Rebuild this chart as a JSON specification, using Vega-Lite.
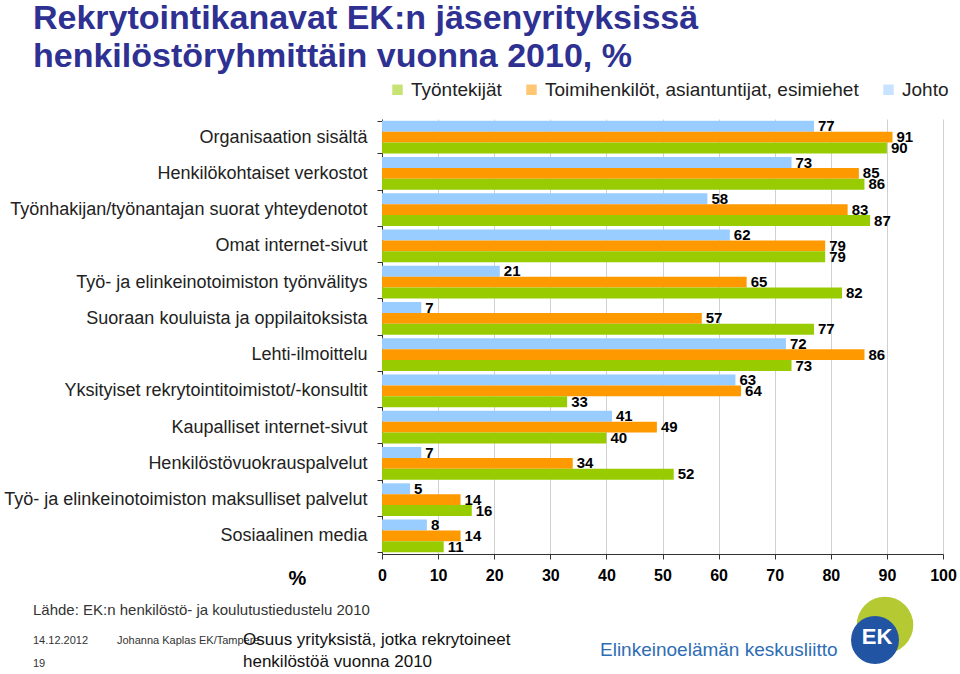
{
  "$schema": "https://vega.github.io/schema/vega-lite/v6.json",
  "width": 561,
  "height": 435,
  "autosize": {"type": "none"},
  "padding": {"left": 382, "top": 119, "right": 17, "bottom": 120},
  "background": "white",
  "config": {"view": {"stroke": null}, "font": "Liberation Sans"},
  "title": {
    "text": ["Rekrytointikanavat EK:n jäsenyrityksissä", "henkilöstöryhmittäin vuonna 2010, %"],
    "anchor": "start",
    "frame": "group",
    "dx": -349,
    "offset": 6,
    "fontSize": 34,
    "fontWeight": "bold",
    "color": "#2E3192",
    "lineHeight": 38,
    "font": "Liberation Sans"
  },
  "data": {
    "values": [
      {"channel": "Organisaation sisältä", "group": "Johto", "value": 77},
      {"channel": "Organisaation sisältä", "group": "Toimihenkilöt, asiantuntijat, esimiehet", "value": 91},
      {"channel": "Organisaation sisältä", "group": "Työntekijät", "value": 90},
      {"channel": "Henkilökohtaiset verkostot", "group": "Johto", "value": 73},
      {"channel": "Henkilökohtaiset verkostot", "group": "Toimihenkilöt, asiantuntijat, esimiehet", "value": 85},
      {"channel": "Henkilökohtaiset verkostot", "group": "Työntekijät", "value": 86},
      {"channel": "Työnhakijan/työnantajan suorat yhteydenotot", "group": "Johto", "value": 58},
      {"channel": "Työnhakijan/työnantajan suorat yhteydenotot", "group": "Toimihenkilöt, asiantuntijat, esimiehet", "value": 83},
      {"channel": "Työnhakijan/työnantajan suorat yhteydenotot", "group": "Työntekijät", "value": 87},
      {"channel": "Omat internet-sivut", "group": "Johto", "value": 62},
      {"channel": "Omat internet-sivut", "group": "Toimihenkilöt, asiantuntijat, esimiehet", "value": 79},
      {"channel": "Omat internet-sivut", "group": "Työntekijät", "value": 79},
      {"channel": "Työ- ja elinkeinotoimiston työnvälitys", "group": "Johto", "value": 21},
      {"channel": "Työ- ja elinkeinotoimiston työnvälitys", "group": "Toimihenkilöt, asiantuntijat, esimiehet", "value": 65},
      {"channel": "Työ- ja elinkeinotoimiston työnvälitys", "group": "Työntekijät", "value": 82},
      {"channel": "Suoraan kouluista ja oppilaitoksista", "group": "Johto", "value": 7},
      {"channel": "Suoraan kouluista ja oppilaitoksista", "group": "Toimihenkilöt, asiantuntijat, esimiehet", "value": 57},
      {"channel": "Suoraan kouluista ja oppilaitoksista", "group": "Työntekijät", "value": 77},
      {"channel": "Lehti-ilmoittelu", "group": "Johto", "value": 72},
      {"channel": "Lehti-ilmoittelu", "group": "Toimihenkilöt, asiantuntijat, esimiehet", "value": 86},
      {"channel": "Lehti-ilmoittelu", "group": "Työntekijät", "value": 73},
      {"channel": "Yksityiset rekrytointitoimistot/-konsultit", "group": "Johto", "value": 63},
      {"channel": "Yksityiset rekrytointitoimistot/-konsultit", "group": "Toimihenkilöt, asiantuntijat, esimiehet", "value": 64},
      {"channel": "Yksityiset rekrytointitoimistot/-konsultit", "group": "Työntekijät", "value": 33},
      {"channel": "Kaupalliset internet-sivut", "group": "Johto", "value": 41},
      {"channel": "Kaupalliset internet-sivut", "group": "Toimihenkilöt, asiantuntijat, esimiehet", "value": 49},
      {"channel": "Kaupalliset internet-sivut", "group": "Työntekijät", "value": 40},
      {"channel": "Henkilöstövuokrauspalvelut", "group": "Johto", "value": 7},
      {"channel": "Henkilöstövuokrauspalvelut", "group": "Toimihenkilöt, asiantuntijat, esimiehet", "value": 34},
      {"channel": "Henkilöstövuokrauspalvelut", "group": "Työntekijät", "value": 52},
      {"channel": "Työ- ja elinkeinotoimiston maksulliset palvelut", "group": "Johto", "value": 5},
      {"channel": "Työ- ja elinkeinotoimiston maksulliset palvelut", "group": "Toimihenkilöt, asiantuntijat, esimiehet", "value": 14},
      {"channel": "Työ- ja elinkeinotoimiston maksulliset palvelut", "group": "Työntekijät", "value": 16},
      {"channel": "Sosiaalinen media", "group": "Johto", "value": 8},
      {"channel": "Sosiaalinen media", "group": "Toimihenkilöt, asiantuntijat, esimiehet", "value": 14},
      {"channel": "Sosiaalinen media", "group": "Työntekijät", "value": 11}
    ]
  },
  "layer": [
    {
      "mark": {"type": "bar"},
      "encoding": {
        "y": {
          "field": "channel",
          "type": "nominal",
          "sort": null,
          "scale": {"paddingInner": 0.1, "paddingOuter": 0.05},
          "axis": {
            "title": null,
            "labelFontSize": 18,
            "labelColor": "#222222",
            "labelPadding": 10,
            "labelLimit": 420,
            "tickSize": 5,
            "tickBand": "extent",
            "domainColor": "#333333",
            "tickColor": "#333333"
          }
        },
        "yOffset": {
          "field": "group",
          "type": "nominal",
          "sort": ["Johto", "Toimihenkilöt, asiantuntijat, esimiehet", "Työntekijät"]
        },
        "x": {
          "field": "value",
          "type": "quantitative",
          "scale": {"domain": [0, 100]},
          "axis": {
            "title": "%",
            "titleX": -85,
            "titleY": 24,
            "titleFontSize": 20,
            "titleFontWeight": "bold",
            "titleAlign": "center",
            "titleBaseline": "middle",
            "titleAngle": 0,
            "titleColor": "#000000",
            "values": [0, 10, 20, 30, 40, 50, 60, 70, 80, 90, 100],
            "labelFontSize": 16,
            "labelFontWeight": "bold",
            "labelColor": "#000000",
            "labelPadding": 8,
            "labelFlush": false,
            "grid": true,
            "gridColor": "#D0D0D0",
            "domainColor": "#333333",
            "tickColor": "#333333",
            "tickSize": 5
          }
        },
        "color": {
          "field": "group",
          "type": "nominal",
          "scale": {
            "domain": ["Työntekijät", "Toimihenkilöt, asiantuntijat, esimiehet", "Johto"],
            "range": ["#99CC00", "#FF9900", "#99CCFF"]
          },
          "legend": {
            "orient": "none",
            "legendX": 6,
            "legendY": -39,
            "direction": "horizontal",
            "title": null,
            "symbolType": "square",
            "symbolSize": 110,
            "symbolOpacity": 0.55,
            "symbolStrokeWidth": 0,
            "labelFontSize": 19,
            "labelColor": "#222222",
            "columnPadding": 20,
            "labelLimit": 420
          }
        }
      }
    },
    {
      "mark": {"type": "text", "align": "left", "baseline": "middle", "dx": 4, "fontWeight": "bold", "fontSize": 15, "color": "#000000"},
      "encoding": {
        "y": {"field": "channel", "type": "nominal", "sort": null},
        "yOffset": {"field": "group", "type": "nominal", "sort": ["Johto", "Toimihenkilöt, asiantuntijat, esimiehet", "Työntekijät"]},
        "x": {"field": "value", "type": "quantitative"},
        "text": {"field": "value", "type": "quantitative"}
      }
    },
    {
      "data": {"values": [{}]},
      "mark": {"type": "text", "text": "Lähde: EK:n henkilöstö- ja koulutustiedustelu 2010", "align": "left", "baseline": "middle", "fontSize": 15, "color": "#333333"},
      "encoding": {"x": {"value": -349}, "y": {"value": 491}}
    },
    {
      "data": {"values": [{}]},
      "mark": {"type": "text", "text": "14.12.2012", "align": "left", "baseline": "middle", "fontSize": 11, "color": "#333333"},
      "encoding": {"x": {"value": -349}, "y": {"value": 522}}
    },
    {
      "data": {"values": [{}]},
      "mark": {"type": "text", "text": "Johanna Kaplas EK/Tampere", "align": "left", "baseline": "middle", "fontSize": 11, "color": "#333333"},
      "encoding": {"x": {"value": -265}, "y": {"value": 522}}
    },
    {
      "data": {"values": [{}]},
      "mark": {"type": "text", "text": "19", "align": "left", "baseline": "middle", "fontSize": 11, "color": "#333333"},
      "encoding": {"x": {"value": -349}, "y": {"value": 545}}
    },
    {
      "data": {"values": [{}]},
      "mark": {"type": "text", "text": ["Osuus yrityksistä, jotka rekrytoineet", "henkilöstöä vuonna 2010"], "align": "left", "baseline": "middle", "fontSize": 17, "lineHeight": 22, "color": "#111111"},
      "encoding": {"x": {"value": -139}, "y": {"value": 521}}
    },
    {
      "data": {"values": [{}]},
      "mark": {"type": "text", "text": "Elinkeinoelämän keskusliitto", "align": "left", "baseline": "middle", "fontSize": 19, "color": "#2E6DB4"},
      "encoding": {"x": {"value": 218}, "y": {"value": 531}}
    },
    {
      "data": {"values": [{}]},
      "mark": {"type": "point", "shape": "circle", "filled": true, "size": 3200, "color": "#B5C932", "opacity": 1},
      "encoding": {"x": {"value": 503}, "y": {"value": 506}}
    },
    {
      "data": {"values": [{}]},
      "mark": {"type": "point", "shape": "circle", "filled": true, "size": 2300, "color": "#2155A4", "opacity": 1},
      "encoding": {"x": {"value": 493}, "y": {"value": 521}}
    },
    {
      "data": {"values": [{}]},
      "mark": {"type": "text", "text": "EK", "align": "center", "baseline": "middle", "fontSize": 22, "fontWeight": "bold", "color": "#FFFFFF"},
      "encoding": {"x": {"value": 495}, "y": {"value": 518}}
    }
  ]
}
